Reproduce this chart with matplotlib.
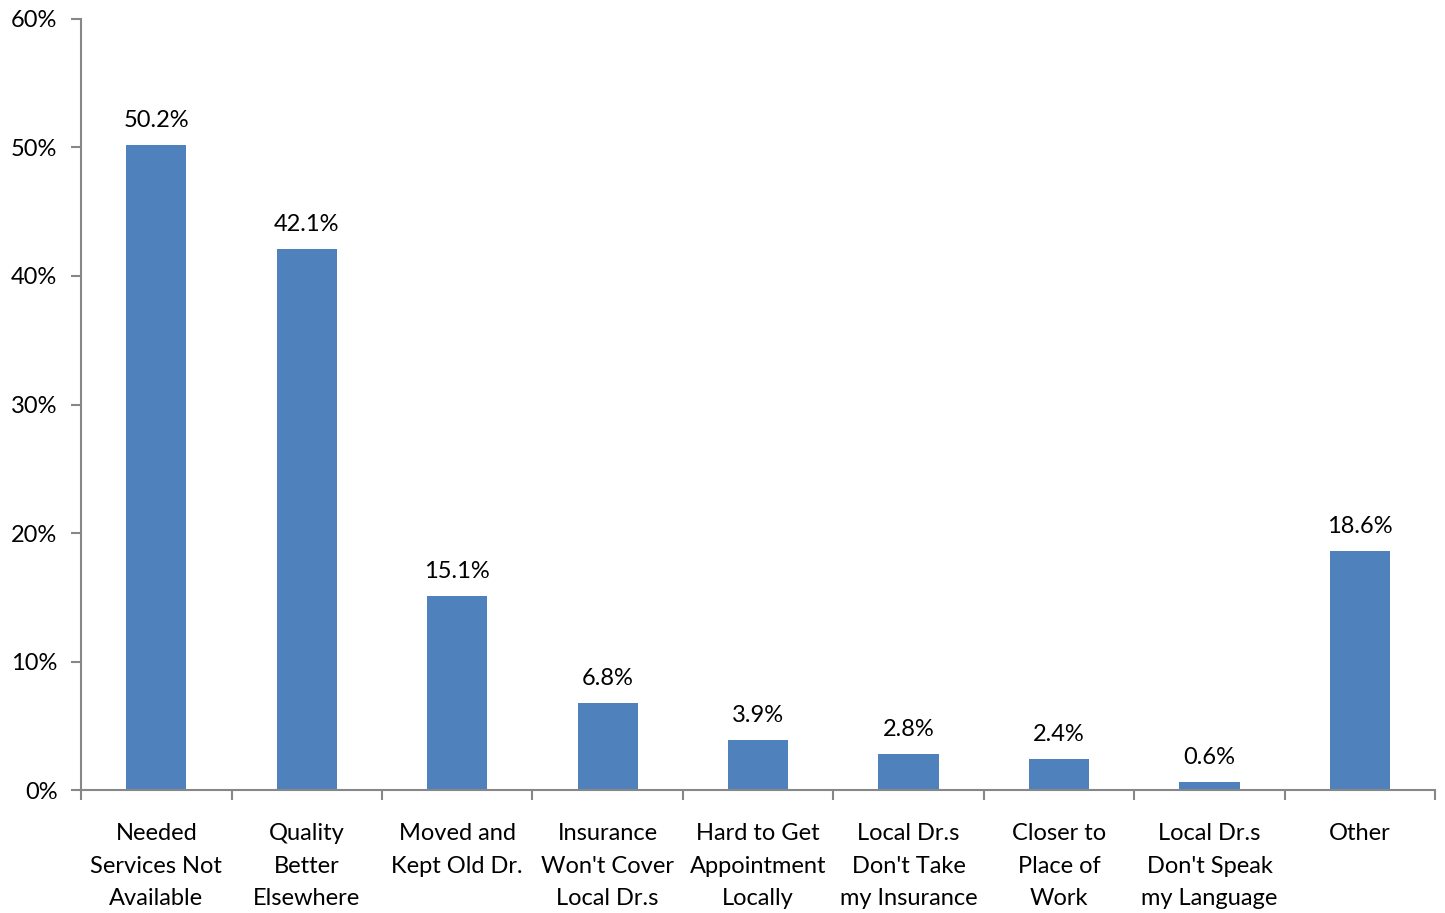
import matplotlib
matplotlib.use("Agg")
import matplotlib.pyplot as plt
from matplotlib.ticker import FixedLocator, PercentFormatter

categories = ["Needed\nServices Not\nAvailable", "Quality\nBetter\nElsewhere",
              "Moved and\nKept Old Dr.", "Insurance\nWon't Cover\nLocal Dr.s",
              "Hard to Get\nAppointment\nLocally", "Local Dr.s\nDon't Take\nmy Insurance",
              "Closer to\nPlace of\nWork", "Local Dr.s\nDon't Speak\nmy Language", "Other"]
values = [50.2, 42.1, 15.1, 6.8, 3.9, 2.8, 2.4, 0.6, 18.6]
value_labels = ["50.2%", "42.1%", "15.1%", "6.8%", "3.9%", "2.8%", "2.4%", "0.6%", "18.6%"]
yticks = [0, 10, 20, 30, 40, 50, 60]

plt.rcParams['font.family'] = ['Lato', 'DejaVu Sans']
fig = plt.figure(figsize=(14.45, 9.13), dpi=100)
ax = fig.add_axes([0.0561, 0.1347, 0.9371, 0.8445])

x = list(range(len(categories)))
bars = ax.bar(x, values, width=0.4, color="#4F81BD")
for xi, v, lab in zip(x, values, value_labels):
    ax.annotate(lab, (xi, v), xytext=(0, 10), textcoords="offset points",
                ha="center", va="bottom", fontsize=17, color="black")

ax.set_xlim(-0.5, len(categories) - 0.5)
ax.set_ylim(0, 60)
ax.yaxis.set_major_locator(FixedLocator(yticks))
ax.yaxis.set_major_formatter(PercentFormatter(decimals=0))

ax.set_xticks(x)
ax.set_xticklabels(categories, fontsize=17, linespacing=1.68, va="top")
ax.tick_params(axis="x", length=0, pad=24)
ax.set_xticks([i - 0.5 for i in range(len(categories) + 1)], minor=True)
ax.tick_params(axis="x", which="minor", length=7, color="#878787", width=1.5)
ax.tick_params(axis="y", length=7, color="#878787", width=1.5, labelsize=17, pad=10)

for s in ["top", "right"]:
    ax.spines[s].set_visible(False)
for s in ["left", "bottom"]:
    ax.spines[s].set_color("#878787")
    ax.spines[s].set_linewidth(1.5)

fig.savefig("out.png", dpi=100)
